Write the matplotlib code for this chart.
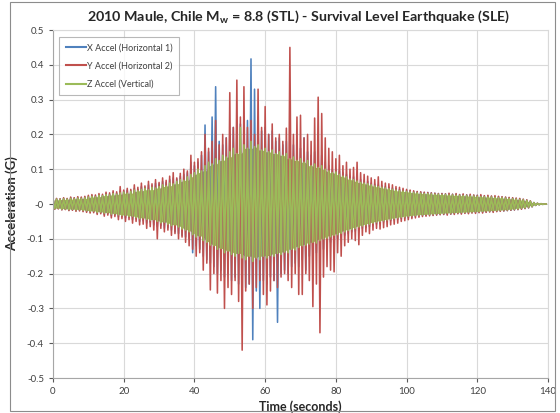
import numpy as np
import matplotlib
matplotlib.use("Agg")
import matplotlib.pyplot as plt
from matplotlib.patches import Rectangle

plt.rcParams['font.family'] = ['Lato', 'DejaVu Sans']
plt.rcParams['mathtext.default'] = 'regular'

# peak accelerations (G) for each second of record: positive swing at t, negative at t+0.5
x_pos = [0.013, 0.015, 0.014, 0.016, 0.015, 0.018, 0.017, 0.019, 0.018, 0.02,
         0.022, 0.024, 0.023, 0.027, 0.025, 0.03, 0.028, 0.033, 0.031, 0.036,
         0.037, 0.04, 0.038, 0.045, 0.042, 0.05, 0.048, 0.055, 0.052, 0.06,
         0.058, 0.065, 0.062, 0.07, 0.075, 0.072, 0.08, 0.085, 0.09, 0.12,
         0.11, 0.12, 0.14, 0.227, 0.15, 0.25, 0.337, 0.18, 0.17, 0.19,
         0.2, 0.22, 0.21, 0.23, 0.22, 0.24, 0.417, 0.33, 0.25, 0.21,
         0.22, 0.2, 0.21, 0.18, 0.19, 0.17, 0.18, 0.16, 0.17, 0.15,
         0.16, 0.19, 0.15, 0.14, 0.15, 0.13, 0.14, 0.12, 0.11, 0.1,
         0.1, 0.095, 0.09, 0.085, 0.08, 0.078, 0.072, 0.07, 0.068, 0.065,
         0.06, 0.057, 0.055, 0.052, 0.05, 0.048, 0.046, 0.044, 0.042, 0.04,
         0.039, 0.038, 0.036, 0.035, 0.034, 0.033, 0.033, 0.032, 0.031, 0.03,
         0.03, 0.029, 0.029, 0.028, 0.028, 0.027, 0.027, 0.026, 0.026, 0.025,
         0.025, 0.024, 0.023, 0.023, 0.022, 0.021, 0.021, 0.02, 0.019, 0.018,
         0.017, 0.016, 0.015, 0.013, 0.011, 0.008, 0.004, 0.002, 0.001, 0.0]
x_neg = [-0.014, -0.013, -0.016, -0.015, -0.018, -0.017, -0.019, -0.018, -0.02, -0.022,
         -0.023, -0.022, -0.027, -0.025, -0.03, -0.028, -0.034, -0.031, -0.037, -0.036,
         -0.04, -0.038, -0.045, -0.042, -0.05, -0.048, -0.055, -0.052, -0.06, -0.065,
         -0.062, -0.07, -0.068, -0.075, -0.08, -0.085, -0.09, -0.095, -0.1, -0.14,
         -0.12, -0.13, -0.15, -0.16, -0.17, -0.18, -0.2, -0.19, -0.21, -0.2,
         -0.22, -0.21, -0.23, -0.22, -0.24, -0.23, -0.39, -0.25, -0.3, -0.22,
         -0.23, -0.21, -0.22, -0.34, -0.2, -0.19, -0.2, -0.18, -0.17, -0.18,
         -0.16, -0.19, -0.15, -0.15, -0.14, -0.14, -0.13, -0.12, -0.11, -0.1,
         -0.1, -0.095, -0.09, -0.085, -0.08, -0.078, -0.072, -0.07, -0.068, -0.065,
         -0.06, -0.058, -0.055, -0.052, -0.05, -0.048, -0.046, -0.044, -0.042, -0.04,
         -0.039, -0.038, -0.036, -0.035, -0.034, -0.033, -0.032, -0.032, -0.031, -0.03,
         -0.03, -0.029, -0.029, -0.028, -0.027, -0.027, -0.026, -0.026, -0.025, -0.025,
         -0.024, -0.024, -0.023, -0.022, -0.022, -0.021, -0.02, -0.02, -0.019, -0.018,
         -0.017, -0.016, -0.014, -0.013, -0.011, -0.008, -0.004, -0.002, -0.001, 0.0]

y_pos = [0.014, 0.016, 0.015, 0.018, 0.016, 0.02, 0.018, 0.021, 0.02, 0.022,
         0.025, 0.027, 0.026, 0.03, 0.028, 0.034, 0.032, 0.038, 0.035, 0.05,
         0.04, 0.045, 0.042, 0.055, 0.048, 0.06, 0.052, 0.065, 0.058, 0.07,
         0.062, 0.075, 0.068, 0.08, 0.09, 0.075, 0.088, 0.1, 0.095, 0.14,
         0.12, 0.13, 0.15, 0.2, 0.16, 0.18, 0.24, 0.17, 0.2, 0.19,
         0.32, 0.22, 0.356, 0.25, 0.337, 0.22, 0.24, 0.2, 0.33, 0.22,
         0.28, 0.2, 0.23, 0.19, 0.2, 0.18, 0.218, 0.45, 0.2, 0.25,
         0.255, 0.19, 0.2, 0.18, 0.247, 0.307, 0.26, 0.19, 0.16, 0.15,
         0.13, 0.14, 0.11, 0.12, 0.1, 0.105, 0.12, 0.09, 0.085, 0.08,
         0.075, 0.07, 0.078, 0.065, 0.06, 0.058, 0.055, 0.05, 0.048, 0.045,
         0.042, 0.04, 0.038, 0.036, 0.035, 0.034, 0.033, 0.032, 0.031, 0.03,
         0.03, 0.029, 0.031, 0.028, 0.03, 0.027, 0.029, 0.026, 0.028, 0.026,
         0.025, 0.027, 0.024, 0.025, 0.023, 0.024, 0.022, 0.021, 0.02, 0.019,
         0.018, 0.017, 0.016, 0.014, 0.012, 0.009, 0.004, 0.002, 0.001, 0.0]
y_neg = [-0.015, -0.014, -0.017, -0.016, -0.019, -0.018, -0.021, -0.02, -0.022, -0.024,
         -0.026, -0.025, -0.03, -0.028, -0.035, -0.032, -0.04, -0.036, -0.045, -0.042,
         -0.05, -0.045, -0.055, -0.05, -0.06, -0.058, -0.07, -0.065, -0.075, -0.1,
         -0.07, -0.08, -0.075, -0.09, -0.085, -0.1, -0.095, -0.11, -0.12, -0.13,
         -0.15, -0.14, -0.19, -0.17, -0.247, -0.2, -0.256, -0.22, -0.3, -0.24,
         -0.26, -0.22, -0.28, -0.42, -0.25, -0.23, -0.3, -0.24, -0.22, -0.26,
         -0.29, -0.25, -0.22, -0.24, -0.21, -0.2, -0.22, -0.24, -0.2, -0.26,
         -0.26, -0.2, -0.22, -0.295, -0.23, -0.37, -0.21, -0.18, -0.19, -0.195,
         -0.14, -0.15, -0.12, -0.11, -0.1, -0.105, -0.117, -0.09, -0.08, -0.085,
         -0.075, -0.07, -0.072, -0.068, -0.065, -0.06, -0.058, -0.055, -0.05, -0.048,
         -0.045, -0.042, -0.04, -0.038, -0.036, -0.035, -0.034, -0.033, -0.032, -0.031,
         -0.03, -0.032, -0.029, -0.03, -0.028, -0.029, -0.027, -0.028, -0.026, -0.027,
         -0.025, -0.026, -0.024, -0.023, -0.024, -0.022, -0.021, -0.02, -0.019, -0.018,
         -0.017, -0.016, -0.015, -0.013, -0.011, -0.008, -0.004, -0.002, -0.001, 0.0]

z_pos = [0.012, 0.014, 0.013, 0.015, 0.014, 0.016, 0.015, 0.017, 0.016, 0.018,
         0.02, 0.022, 0.021, 0.025, 0.024, 0.027, 0.026, 0.03, 0.028, 0.032,
         0.034, 0.031, 0.036, 0.04, 0.038, 0.042, 0.045, 0.041, 0.048, 0.046,
         0.05, 0.055, 0.052, 0.06, 0.058, 0.065, 0.07, 0.068, 0.078, 0.085,
         0.09, 0.1, 0.095, 0.11, 0.12, 0.115, 0.13, 0.125, 0.14, 0.135,
         0.15, 0.16, 0.145, 0.22, 0.17, 0.16, 0.18, 0.165, 0.17, 0.155,
         0.16, 0.15, 0.155, 0.145, 0.15, 0.14, 0.145, 0.13, 0.135, 0.125,
         0.13, 0.12, 0.125, 0.11, 0.115, 0.105, 0.11, 0.1, 0.095, 0.09,
         0.092, 0.085, 0.08, 0.078, 0.072, 0.07, 0.066, 0.062, 0.06, 0.058,
         0.055, 0.052, 0.05, 0.048, 0.046, 0.044, 0.042, 0.04, 0.038, 0.037,
         0.036, 0.035, 0.033, 0.032, 0.031, 0.03, 0.03, 0.029, 0.028, 0.028,
         0.027, 0.027, 0.026, 0.026, 0.025, 0.025, 0.024, 0.024, 0.023, 0.023,
         0.022, 0.021, 0.021, 0.02, 0.02, 0.019, 0.018, 0.018, 0.017, 0.016,
         0.015, 0.014, 0.013, 0.012, 0.01, 0.008, 0.004, 0.002, 0.001, 0.0]
z_neg = [-0.013, -0.012, -0.015, -0.014, -0.016, -0.015, -0.017, -0.016, -0.018, -0.019,
         -0.021, -0.02, -0.024, -0.023, -0.026, -0.025, -0.029, -0.028, -0.031, -0.033,
         -0.032, -0.036, -0.035, -0.039, -0.042, -0.04, -0.044, -0.047, -0.045, -0.05,
         -0.054, -0.052, -0.058, -0.062, -0.06, -0.066, -0.072, -0.075, -0.08, -0.088,
         -0.095, -0.092, -0.105, -0.11, -0.118, -0.12, -0.13, -0.128, -0.14, -0.135,
         -0.145, -0.15, -0.142, -0.155, -0.16, -0.15, -0.165, -0.155, -0.16, -0.15,
         -0.155, -0.148, -0.15, -0.142, -0.145, -0.138, -0.14, -0.13, -0.132, -0.125,
         -0.12, -0.118, -0.115, -0.11, -0.112, -0.105, -0.1, -0.098, -0.094, -0.09,
         -0.088, -0.084, -0.08, -0.076, -0.073, -0.07, -0.066, -0.063, -0.06, -0.058,
         -0.055, -0.052, -0.05, -0.048, -0.046, -0.044, -0.042, -0.04, -0.038, -0.037,
         -0.035, -0.034, -0.033, -0.032, -0.031, -0.03, -0.03, -0.029, -0.028, -0.028,
         -0.027, -0.026, -0.026, -0.025, -0.025, -0.024, -0.024, -0.023, -0.023, -0.022,
         -0.022, -0.021, -0.02, -0.02, -0.019, -0.019, -0.018, -0.017, -0.017, -0.016,
         -0.015, -0.014, -0.012, -0.011, -0.009, -0.007, -0.004, -0.002, -0.001, 0.0]

series = [
    ("X Accel (Horizontal 1)", x_pos, x_neg, "#4F81BD"),
    ("Y Accel (Horizontal 2)", y_pos, y_neg, "#C0504D"),
    ("Z Accel (Vertical)", z_pos, z_neg, "#9BBB59"),
]


def body(vals, fn):
    # strip isolated spikes so the filled band follows the dense part of the trace
    v = np.asarray(vals)
    padded = np.concatenate([v[:1], v, v[-1:]])
    return fn(np.vstack([padded[:-2], padded[1:-1], padded[2:]]), axis=0)


fig = plt.figure(figsize=(5.6, 4.13), dpi=100)
ax = fig.add_axes([53 / 560, 1 - 378 / 413, 495 / 560, 348 / 413])

for name, pos, neg, col in series:
    n = len(pos)
    sec = np.arange(n)
    t = np.empty(2 * n)
    t[0::2] = sec
    t[1::2] = sec + 0.5
    acc = np.empty(2 * n)
    acc[0::2] = pos
    acc[1::2] = neg
    if name.startswith("Z"):
        # vertical trace is dense enough to read as a solid band
        ax.fill_between(sec + 0.25, body(neg, np.max), body(pos, np.min), color=col, lw=0)
    ax.plot(t, acc, color=col, lw=1.15, label=name)

ax.set_xlim(0, 140)
ax.set_ylim(-0.5, 0.5)
ax.set_xticks(np.arange(0, 141, 20))
ax.set_yticks(np.arange(-0.5, 0.51, 0.1))
ax.set_yticklabels(['%g' % round(v, 1) for v in np.arange(-0.5, 0.51, 0.1)])
ax.grid(True, color='#d9d9d9', lw=0.8)
ax.set_axisbelow(True)
for s in ['top', 'right']:
    ax.spines[s].set_color('#d9d9d9')
for s in ['left', 'bottom']:
    ax.spines[s].set_color('#a6a6a6')
ax.tick_params(labelsize=7, colors='#595959', length=3, width=0.8)
ax.tick_params(labelcolor='#404040')

ax.set_xlabel('Time (seconds)', fontsize=9, fontweight='bold', color='#262626', labelpad=3)
ax.set_ylabel('Acceleration (G)', fontsize=9.5, fontweight='bold', color='#262626', labelpad=6)
fig.text(0.533, 1 - 17 / 413, '2010 Maule, Chile M$_w$ = 8.8 (STL) - Survival Level Earthquake (SLE)',
         ha='center', va='center', fontsize=10.3, fontweight='bold', color='#262626')

leg = ax.legend(loc='upper left', bbox_to_anchor=(0.004, 0.992), fontsize=6.5,
                frameon=True, fancybox=False, edgecolor='#a6a6a6', handlelength=2.2,
                handletextpad=0.2, borderpad=0.7, labelspacing=1.0)
leg.get_frame().set_linewidth(0.8)
for line in leg.get_lines():
    line.set_linewidth(1.5)
for txt in leg.get_texts():
    txt.set_color('#404040')

fig.patches.append(Rectangle((10 / 560, 2 / 413), 545 / 560, 409 / 413, transform=fig.transFigure,
                             fill=False, edgecolor='#8c8c8c', lw=0.8))

fig.savefig('out.png', dpi=100)
